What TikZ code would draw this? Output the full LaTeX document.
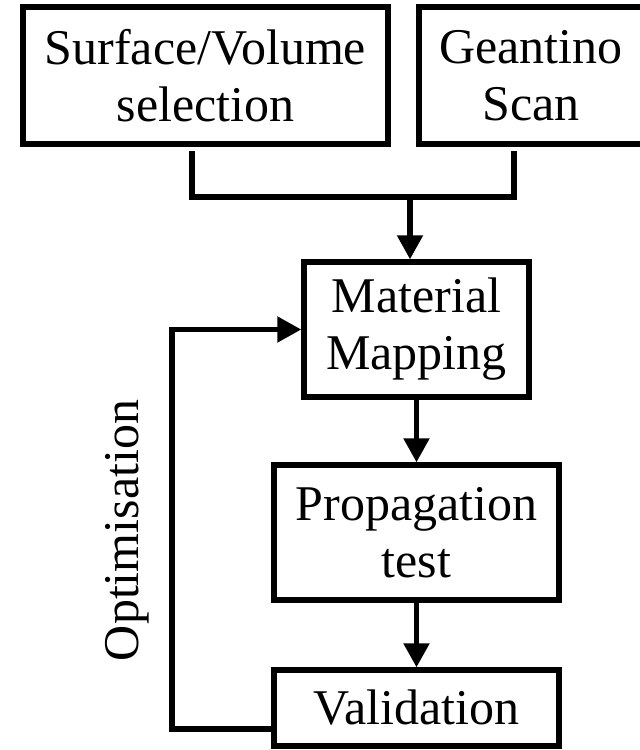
\documentclass[tikz,border=0pt]{standalone}
\usepackage{fontspec}
\setmainfont{Liberation Serif}
\usetikzlibrary{arrows.meta}

\begin{document}
\begin{tikzpicture}[
    x=0.5pt, y=-0.5pt,
    box/.style={draw, line width=2.7pt, align=center, inner sep=0pt, font=\fontsize{25}{28.5}\selectfont},
    link/.style={line width=2.6pt},
    flow/.style={link, -{Triangle[length=12pt, width=12.5pt]}}
]
\useasboundingbox (0,0) rectangle (639,750);

% Entrées
\node[box, minimum width=182.5pt, minimum height=68.5pt] (sel) at (205.5,75.5) {Surface/Volume\\selection};
\node[box, minimum width=112pt, minimum height=68.5pt] (scan) at (531,75.5) {Geantino\\Scan};

% Étapes
\node[box, minimum width=112.5pt, minimum height=67.5pt] (mat) at (416.5,329.5) {Material\\Mapping};
\node[box, minimum width=142.5pt, minimum height=67.5pt] (prop) at (416.5,532.5) {Propagation\\test};
\node[box, minimum width=142.5pt, minimum height=38pt] (val) at (416.5,708) {Validation};

% Jonction
\coordinate (selout) at (192,151);
\coordinate (scanout) at (514,151);
\coordinate (join) at (410,197);
\draw[link] (selout) |- (join) -| (scanout);
\draw[flow] (join) -- (join |- mat.north);

% Connexions
\draw[flow] (mat) -- (prop);
\draw[flow] (prop) -- (val);

% Boucle
\coordinate (back) at (172,729);
\draw[flow] (val.west |- back) -- (back) |- (mat.west);
\node[font=\fontsize{25}{28.5}\selectfont, rotate=90] (opt) at (127,530.5) {Optimisation};

\end{tikzpicture}
\end{document}
